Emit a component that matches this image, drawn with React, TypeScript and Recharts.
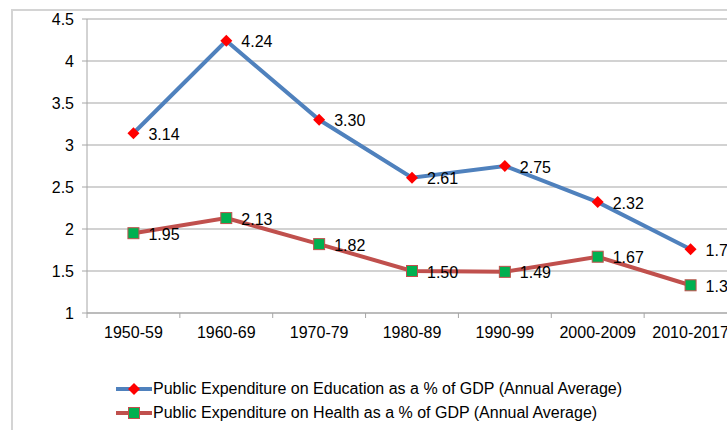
import { LineChart, Line, XAxis, YAxis, CartesianGrid, LabelList } from "recharts";

const categories = ["1950-59", "1960-69", "1970-79", "1980-89", "1990-99", "2000-2009", "2010-2017"];
const educationValues = [3.14, 4.24, 3.3, 2.61, 2.75, 2.32, 1.76];
const healthValues = [1.95, 2.13, 1.82, 1.5, 1.49, 1.67, 1.33];
const yTicks = [1, 1.5, 2, 2.5, 3, 3.5, 4, 4.5];

const EDU_NAME = "Public Expenditure on Education as a % of GDP (Annual Average)";
const HEALTH_NAME = "Public Expenditure on Health as a % of GDP (Annual Average)";

const data = categories.map((c, i) => ({
  period: c,
  education: educationValues[i],
  health: healthValues[i],
}));

const FONT = '"Liberation Sans", Arial, sans-serif';
const BLUE = "#4f81bd";
const RED = "#c0504d";
const GREEN = "#00b050";
const AXIS = "#a6a6a6";

const CHART_W = 760;
const PLOT_LEFT = 87;
const PLOT_RIGHT = 737;
const BAND = (PLOT_RIGHT - PLOT_LEFT) / categories.length;

function Diamond({ cx, cy }: any) {
  if (cx == null || cy == null) return null;
  const r = 6;
  return (
    <polygon
      points={`${cx},${cy - r} ${cx + r},${cy} ${cx},${cy + r} ${cx - r},${cy}`}
      fill="#ff0000"
    />
  );
}

function Square({ cx, cy }: any) {
  if (cx == null || cy == null) return null;
  const s = 11;
  return <rect x={cx - s / 2} y={cy - s / 2} width={s} height={s} fill={GREEN} stroke={RED} strokeWidth={1} />;
}

function XTick({ x, y, payload }: any) {
  const edge = x - BAND / 2;
  return (
    <g>
      <line x1={edge} x2={edge} y1={y} y2={y + 5} stroke={AXIS} />
      <text x={x} y={y + 19} textAnchor="middle" dominantBaseline="central" fontSize={16} fill="#000" fontFamily={FONT}>
        {payload.value}
      </text>
    </g>
  );
}

function PointLabel({ x, y, value }: any) {
  return (
    <text x={x + 15} y={y + 1} dominantBaseline="central" fontSize={16} fill="#000" fontFamily={FONT}>
      {Number(value).toFixed(2)}
    </text>
  );
}

function LegendBox() {
  const rows = [
    { name: EDU_NAME, color: BLUE, marker: "diamond" },
    { name: HEALTH_NAME, color: RED, marker: "square" },
  ];
  return (
    <div style={{ position: "absolute", left: 116, top: 377, fontFamily: FONT, fontSize: 16, color: "#000" }}>
      {rows.map((r) => (
        <div key={r.name} style={{ display: "flex", alignItems: "center", height: 24, whiteSpace: "nowrap" }}>
          <svg width={37} height={14}>
            <line x1={0} x2={36} y1={7} y2={7} stroke={r.color} strokeWidth={4} />
            {r.marker === "diamond" ? <Diamond cx={18} cy={7} /> : <Square cx={18} cy={7} />}
          </svg>
          <span>{r.name}</span>
        </div>
      ))}
    </div>
  );
}

export default function App() {
  return (
    <div
      style={{
        position: "absolute",
        left: 0,
        top: 0,
        width: 727,
        height: 430,
        overflow: "hidden",
        background: "#fff",
      }}
    >
      <div
        style={{
          position: "absolute",
          left: 11,
          top: 9,
          width: 900,
          height: 600,
          border: "2px solid #d4d4d4",
        }}
      />
      <div style={{ position: "absolute", left: 0, top: 0 }}>
        <LineChart
          width={CHART_W}
          height={430}
          data={data}
          margin={{ top: 19, right: CHART_W - PLOT_RIGHT, bottom: 87, left: 0 }}
        >
          <CartesianGrid horizontal vertical={false} stroke={AXIS} strokeWidth={1.2} />
          <XAxis
            dataKey="period"
            height={30}
            stroke={AXIS}
            padding={{ left: BAND / 2, right: BAND / 2 }}
            tickLine={false}
            tickSize={0}
            tickMargin={0}
            tick={<XTick />}
            interval={0}
          />
          <YAxis
            width={87}
            domain={[1, 4.5]}
            ticks={yTicks}
            stroke={AXIS}
            tickSize={5}
            tickMargin={8}
            tick={{ fill: "#000", fontSize: 16, fontFamily: FONT }}
          />
          <Line
            dataKey="education"
            name={EDU_NAME}
            stroke={BLUE}
            strokeWidth={4}
            dot={<Diamond />}
            activeDot={false}
            isAnimationActive={false}
          >
            <LabelList dataKey="education" content={<PointLabel />} />
          </Line>
          <Line
            dataKey="health"
            name={HEALTH_NAME}
            stroke={RED}
            strokeWidth={4}
            dot={<Square />}
            activeDot={false}
            isAnimationActive={false}
          >
            <LabelList dataKey="health" content={<PointLabel />} />
          </Line>
        </LineChart>
      </div>
      <LegendBox />
    </div>
  );
}
